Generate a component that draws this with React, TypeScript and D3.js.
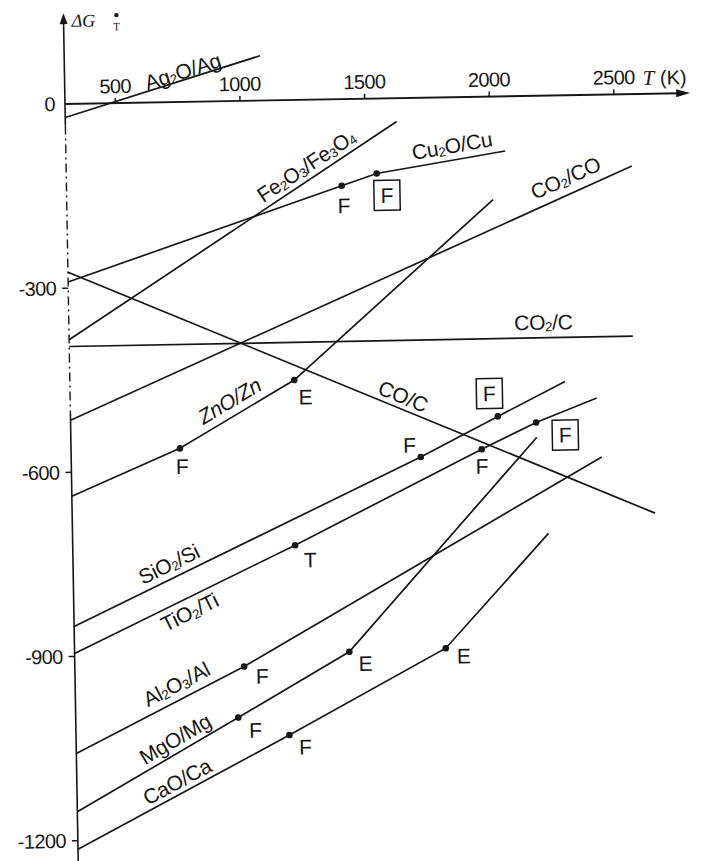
import React from "react";
import * as d3 from "d3";

// ---- data (T in K, ΔG° in kJ) ----
const T_TICKS = [500, 1000, 1500, 2000, 2500];
const G_TICKS = [0, -300, -600, -900, -1200];

const AG2O_AG = [[298, -22], [1083, 73]];
const FE2O3_FE3O4 = [[298, -384], [1627, -38]];
const CU2O_CU = [[298, -290], [1402, -141], [1543, -122], [2060, -89]];
const CO2_CO = [[298, -515], [2567, -117]];
const CO2_C = [[298, -395], [2559, -394]];
const CO_C = [[298, -274], [2636, -683]];
const ZNO_ZN = [[298, -639], [735, -564], [1198, -456], [2008, -168]];
const SIO2_SI = [[298, -851], [1700, -585], [2012, -521], [2284, -466]];
const TIO2_TI = [[298, -895], [1190, -725], [1945, -574], [2165, -532], [2410, -494]];
const AL2O3_AL = [[298, -1058], [977, -921], [2426, -590]];
const MGO_MG = [[298, -1153], [950, -1004], [1400, -900], [2167, -556]];
const CAO_CA = [[298, -1214], [1154, -1034], [1787, -897], [2207, -713]];

const SERIES = [
  { id: "ag", name: "Ag_2O/Ag", pts: AG2O_AG },
  { id: "fe", name: "Fe_2O_3/Fe_3O_4", pts: FE2O3_FE3O4 },
  { id: "cu", name: "Cu_2O/Cu", pts: CU2O_CU },
  { id: "co2co", name: "CO_2/CO", pts: CO2_CO },
  { id: "co2c", name: "CO_2/C", pts: CO2_C },
  { id: "coc", name: "CO/C", pts: CO_C },
  { id: "zn", name: "ZnO/Zn", pts: ZNO_ZN },
  { id: "si", name: "SiO_2/Si", pts: SIO2_SI },
  { id: "ti", name: "TiO_2/Ti", pts: TIO2_TI },
  { id: "al", name: "Al_2O_3/Al", pts: AL2O3_AL },
  { id: "mg", name: "MgO/Mg", pts: MGO_MG },
  { id: "ca", name: "CaO/Ca", pts: CAO_CA },
];

// label placement along each line: temperature of label centre
const LABEL_T = [782, 1290, 1856, 2326, 2201, 1614, 968, 707, 739, 732, 722, 723];
// perpendicular offset of label centre (px, positive = above line)
const LABEL_OFF = [9, 14, 15, 17, 16, 13, 16, 15, -13, 16, 14, 13];

// phase transition points: line, temperature, letter, boxed
const TRANS_LINE = ["cu", "cu", "zn", "zn", "si", "si", "ti", "ti", "ti", "al", "mg", "mg", "ca", "ca"];
const TRANS_T = [1402, 1543, 735, 1198, 1700, 2012, 1190, 1945, 2165, 977, 950, 1400, 1154, 1787];
const TRANS_KIND = ["F", "F", "F", "E", "F", "F", "T", "F", "F", "F", "F", "E", "F", "E"];
const TRANS_BOXED = [false, true, false, false, false, true, false, false, true, false, false, false, false, false];
// letter offsets relative to dot (px)
const TRANS_DX = [2, 10, 2, 11, -11, -8, 15, 0, 29, 18, 17, 16, 16, 18];
const TRANS_DY = [20, 22, 18, 17, -12, -23, 15, 17, 13, 10, 13, 12, 12, 8];

const T0 = 298;
const T_MAX = 2806;
const G_TOP = 148;
const G_BOTTOM = -1245;

const x = d3.scaleLinear().domain([T0, T_MAX]).range([0, (T_MAX - T0) * 0.2493]);
const y = d3.scaleLinear().domain([0, -1200]).range([0, 1200 * 0.614]);

function segIndex(pts: number[][], T: number) {
  for (let i = 0; i < pts.length - 1; i++) {
    if (T <= pts[i + 1][0]) return i;
  }
  return pts.length - 2;
}
function gAt(pts: number[][], T: number) {
  const i = segIndex(pts, T);
  const [t1, g1] = pts[i];
  const [t2, g2] = pts[i + 1];
  return g1 + ((T - t1) / (t2 - t1)) * (g2 - g1);
}
function angleAt(pts: number[][], T: number) {
  const i = segIndex(pts, T);
  const [t1, g1] = pts[i];
  const [t2, g2] = pts[i + 1];
  return (Math.atan2(y(g2) - y(g1), x(t2) - x(t1)) * 180) / Math.PI;
}

function Rich({ s }: { s: string }) {
  const parts = s.split(/_(\d)/);
  const out: any[] = [];
  parts.forEach((p, i) => {
    if (i % 2 === 1) {
      out.push(
        <tspan key={i} fontSize="0.62em" dy="0.35em">
          {p}
        </tspan>
      );
    } else if (p) {
      out.push(
        <tspan key={i} dy={i > 0 ? "-0.217em" : undefined}>
          {p}
        </tspan>
      );
    }
  });
  return <>{out}</>;
}

const INK = "#161616";
const SANS = "'Liberation Sans', Arial, sans-serif";
const SERIF = "'Liberation Serif', 'Times New Roman', serif";

export default function App() {
  const line = d3
    .line<number[]>()
    .x((d) => x(d[0]))
    .y((d) => y(d[1]));

  const byId: Record<string, number[][]> = {};
  SERIES.forEach((s) => (byId[s.id] = s.pts));

  const xEnd = x(T_MAX);
  const yTop = y(G_TOP);
  const yBot = y(G_BOTTOM);

  return (
    <svg
      width={710}
      height={861}
      style={{ position: "absolute", left: 0, top: 0, display: "block", background: "#fff" }}
    >
      <rect width={710} height={861} fill="#fff" />
      <g transform="translate(65,104) rotate(-1)">
        {/* y axis */}
        <line x1={0} x2={0} y1={yTop + 8} y2={y(-35)} stroke={INK} strokeWidth={1.6} />
        <line
          x1={0}
          x2={0}
          y1={y(-35)}
          y2={y(-505)}
          stroke={INK}
          strokeWidth={1.4}
          strokeDasharray="9,4,2,4"
        />
        <line x1={0} x2={0} y1={y(-505)} y2={yBot} stroke={INK} strokeWidth={1.6} />
        <path d={`M0,${yTop} L-4,${yTop + 11} L4,${yTop + 11} Z`} fill={INK} />
        {/* x axis */}
        <line x1={0} x2={xEnd - 10} y1={0} y2={0} stroke={INK} strokeWidth={1.8} />
        <path d={`M${xEnd},0 L${xEnd - 14},-4 L${xEnd - 14},4 Z`} fill={INK} />

        {/* x ticks */}
        {T_TICKS.map((t) => (
          <g key={t} transform={`translate(${x(t)},0)`}>
            <line y1={0} y2={-5} stroke={INK} strokeWidth={1.5} />
            <text
              y={-10}
              textAnchor="middle"
              fontFamily={SANS}
              fontSize={20}
              letterSpacing={-0.6}
              fill={INK}
            >
              {t}
            </text>
          </g>
        ))}
        <text x={578} y={-9} fontFamily={SERIF} fontSize={21} fill={INK}>
          <tspan fontStyle="italic">T</tspan>
          <tspan fontFamily={SANS} fontSize={20}> (K)</tspan>
        </text>

        {/* y ticks */}
        {G_TICKS.map((g) => (
          <g key={g} transform={`translate(0,${y(g)})`}>
            {g !== 0 && <line x1={-6} x2={0} stroke={INK} strokeWidth={1.5} />}
            <text
              x={g === 0 ? -10 : -12}
              textAnchor="end"
              dominantBaseline="central"
              fontFamily={SANS}
              fontSize={20}
              letterSpacing={-0.6}
              fill={INK}
            >
              {g === 0 ? "0" : `-${Math.abs(g)}`}
            </text>
          </g>
        ))}

        {/* y axis title */}
        <text x={8} y={-77} fontFamily={SERIF} fontStyle="italic" fontSize={18} fill={INK}>
          ΔG
        </text>
        <circle cx={53} cy={-88} r={2.2} fill={INK} />
        <text x={53} y={-73} textAnchor="middle" fontFamily={SERIF} fontSize={11} fill={INK}>
          T
        </text>

        {/* lines */}
        {SERIES.map((s) => (
          <path key={s.id} d={line(s.pts) || ""} fill="none" stroke={INK} strokeWidth={1.7} />
        ))}

        {/* line labels */}
        {SERIES.map((s, i) => {
          const T = LABEL_T[i];
          const g = gAt(s.pts, T);
          const a = angleAt(s.pts, T);
          return (
            <g key={s.id} transform={`translate(${x(T)},${y(g)}) rotate(${a})`}>
              <text
                y={-LABEL_OFF[i]}
                textAnchor="middle"
                dominantBaseline="central"
                fontFamily={SANS}
                fontStyle={s.id === "zn" ? "italic" : "normal"}
                fontSize={21}
                letterSpacing={-0.3}
                fill={INK}
              >
                <Rich s={s.name} />
              </text>
            </g>
          );
        })}

        {/* transition points */}
        {TRANS_T.map((T, i) => {
          const pts = byId[TRANS_LINE[i]];
          const g = gAt(pts, T);
          const cx = x(T);
          const cy = y(g);
          const lx = cx + TRANS_DX[i];
          const ly = cy + TRANS_DY[i];
          return (
            <g key={i}>
              <circle cx={cx} cy={cy} r={3.3} fill={INK} />
              {TRANS_BOXED[i] && (
                <rect
                  x={lx - 13}
                  y={ly - 15}
                  width={26}
                  height={30}
                  fill="none"
                  stroke={INK}
                  strokeWidth={1.5}
                />
              )}
              <text
                x={lx}
                y={ly}
                textAnchor="middle"
                dominantBaseline="central"
                fontFamily={SANS}
                fontSize={21}
                fill={INK}
              >
                {TRANS_KIND[i]}
              </text>
            </g>
          );
        })}
      </g>
    </svg>
  );
}
